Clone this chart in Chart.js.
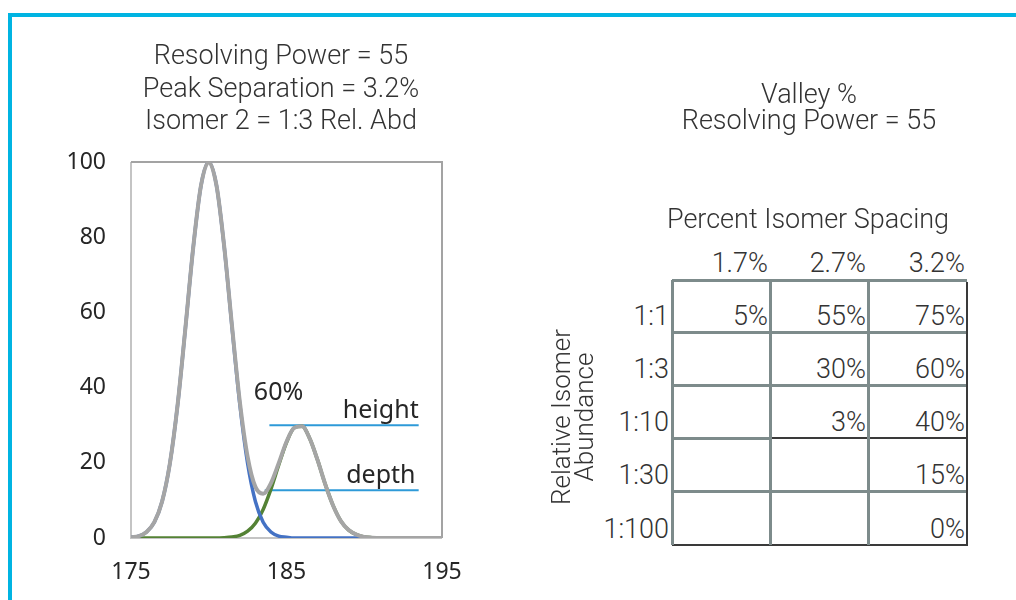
<!DOCTYPE html>
<html>
<head>
<meta charset="utf-8">
<script src="https://cdn.jsdelivr.net/npm/chart.js@4.4.1/dist/chart.umd.min.js"></script>
<style>
  html, body { margin: 0; padding: 0; background: #fff; }
  body { width: 1016px; height: 600px; position: relative; overflow: hidden; font-family: Roboto, sans-serif; font-weight: 300; color: #333; }
  #frameTop { position: absolute; left: 8px; top: 13px; width: 1008px; height: 4px; background: #00b4e2; }
  #frameLeft { position: absolute; left: 8px; top: 13px; width: 4px; height: 587px; background: #00b4e2; }
  #chartBox { position: absolute; left: 0; top: 0; width: 562px; height: 600px; }
  .t { position: absolute; white-space: nowrap; font-size: 27px; line-height: 27px; }
  .hl { position: absolute; }
</style>
</head>
<body>
<div id="frameTop"></div>
<div id="frameLeft"></div>
<div id="chartBox"><canvas id="c" width="562" height="600"></canvas></div>
<div id="table"></div>
<script>
// ---------- data ----------
const chartTitle = ['Resolving Power = 55', 'Peak Separation = 3.2%', 'Isomer 2 = 1:3 Rel. Abd'];
const massValues = [175,175.5,176,176.5,177,177.5,178,178.5,179,179.5,180,180.5,181,181.5,182,182.5,183,183.5,184,184.5,185,185.5,186,186.5,187,187.5,188,188.5,189,189.5,190,190.5,191,191.5,192,192.5,193,193.5,194,194.5,195];
const isomer1 = [0.2,0.5,1.6,4.2,9.7,19.8,35.5,55.9,77.2,93.7,100,93.7,77.2,55.9,35.5,19.8,9.7,4.2,1.6,0.5,0.2,0,0,0,0,0,0,0,0,0,0,0,0,0,0,0,0,0,0,0,0];
const isomer2 = [0,0,0,0,0,0,0,0,0,0,0,0,0.1,0.3,0.7,1.8,3.9,7.6,13.0,19.4,25.4,29.3,29.7,26.4,20.7,14.2,8.6,4.5,2.1,0.9,0.3,0.1,0,0,0,0,0,0,0,0,0];
const combined = [0.2,0.5,1.6,4.2,9.7,19.8,35.5,55.9,77.2,93.7,100,93.7,77.3,56.2,36.2,21.6,13.6,11.8,14.6,19.9,25.6,29.3,29.7,26.4,20.7,14.2,8.6,4.5,2.1,0.9,0.3,0.1,0,0,0,0,0,0,0,0,0];
const heightLineX = [183.9, 193.5];
const heightLevel = 30;
const depthLineX = [183.6, 193.5];
const depthLevel = 12.7;
const annotations = [
  { text: '60%', x: 182.9, y: 36.7, align: 'left' },
  { text: 'height', x: 193.5, y: 31.9, align: 'right' },
  { text: 'depth', x: 193.3, y: 14.6, align: 'right' }
];

const tableTitle = ['Valley %', 'Resolving Power = 55'];
const tableAxisTitle = 'Percent Isomer Spacing';
const rowAxisTitle = ['Relative Isomer', 'Abundance'];
const spacingLabels = ['1.7%', '2.7%', '3.2%'];
const abundanceLabels = ['1:1', '1:3', '1:10', '1:30', '1:100'];
const valleyTable = [
  ['5%', '55%', '75%'],
  ['', '30%', '60%'],
  ['', '3%', '40%'],
  ['', '', '15%'],
  ['', '', '0%']
];

// ---------- chart ----------
const pts = (ys) => massValues.map((x, i) => ({ x: x, y: ys[i] }));
const seg = (xs, y) => xs.map(x => ({ x: x, y: y }));

const tickFont = { family: '"Noto Sans", sans-serif', size: 23 };

const decorPlugin = {
  id: 'decor',
  beforeDatasetsDraw(chart) {
    const { ctx, chartArea: a } = chart;
    ctx.save();
    ctx.lineWidth = 2;
    ctx.strokeStyle = '#c4c4c4';
    ctx.beginPath();
    ctx.moveTo(a.left, a.top); ctx.lineTo(a.left, a.bottom); ctx.lineTo(a.right, a.bottom);
    ctx.stroke();
    ctx.strokeStyle = '#a3a3a3';
    ctx.beginPath();
    ctx.moveTo(a.left, a.top); ctx.lineTo(a.right, a.top); ctx.lineTo(a.right, a.bottom);
    ctx.stroke();
    ctx.restore();
  },
  afterDatasetsDraw(chart) {
    const { ctx, scales } = chart;
    ctx.save();
    ctx.font = '25px "Noto Sans", sans-serif';
    ctx.fillStyle = '#262626';
    ctx.textBaseline = 'alphabetic';
    annotations.forEach(a => {
      ctx.textAlign = a.align;
      ctx.fillText(a.text, scales.x.getPixelForValue(a.x), scales.y.getPixelForValue(a.y));
    });
    ctx.restore();
  }
};

new Chart(document.getElementById('c'), {
  type: 'line',
  data: {
    datasets: [
      { label: 'Sum', data: pts(combined), borderColor: '#a5a5a5', borderWidth: 4, order: 0 },
      { label: 'Isomer 1', data: pts(isomer1), borderColor: '#4472c4', borderWidth: 3.5, order: 1 },
      { label: 'Isomer 2', data: pts(isomer2), borderColor: '#548235', borderWidth: 3.5, order: 2 },
      { label: 'height', data: seg(heightLineX, heightLevel), borderColor: '#2e9ad8', borderWidth: 2, order: 3, tension: 0 },
      { label: 'depth', data: seg(depthLineX, depthLevel), borderColor: '#2e9ad8', borderWidth: 2, order: 3, tension: 0 }
    ]
  },
  options: {
    responsive: false,
    animation: false,
    events: [],
    layout: { padding: { left: 0, right: 0, top: 0, bottom: 0 } },
    elements: { point: { radius: 0 }, line: { cubicInterpolationMode: 'monotone', fill: false } },
    plugins: {
      legend: { display: false },
      tooltip: { enabled: false },
      title: {
        display: true,
        text: chartTitle,
        color: '#333',
        font: { family: 'Roboto, sans-serif', weight: 300, size: 27, lineHeight: 1.204 },
        padding: { top: 41, bottom: 23.5 }
      }
    },
    scales: {
      x: {
        type: 'linear', min: 175, max: 195,
        grid: { display: false, drawTicks: false },
        border: { display: false },
        ticks: { stepSize: 10, color: '#262626', font: tickFont, padding: 21, maxRotation: 0 },
        afterFit(s) { s.height = 62; }
      },
      y: {
        min: 0, max: 100,
        grid: { display: false, drawTicks: false },
        border: { display: false },
        ticks: { stepSize: 20, color: '#262626', font: tickFont, padding: 25 },
        afterFit(s) { s.width = 131; }
      },
      ySpacer: {
        position: 'right', min: 0, max: 100,
        grid: { display: false, drawTicks: false },
        border: { display: false },
        ticks: { display: false },
        afterFit(s) { s.width = 120; }
      }
    }
  },
  plugins: [decorPlugin]
});

// ---------- table ----------
const root = document.getElementById('table');
function addText(txt, x, baseline, align) {
  const d = document.createElement('div');
  d.className = 't';
  d.textContent = txt;
  d.style.top = (baseline - 22.7) + 'px';
  if (align === 'right') { d.style.right = (1016 - x) + 'px'; d.style.textAlign = 'right'; }
  else if (align === 'center') { d.style.left = (x - 300) + 'px'; d.style.width = '600px'; d.style.textAlign = 'center'; }
  else { d.style.left = x + 'px'; }
  root.appendChild(d);
}
function addLine(x, y, w, h, color) {
  const d = document.createElement('div');
  d.className = 'hl';
  d.style.left = x + 'px'; d.style.top = y + 'px';
  d.style.width = w + 'px'; d.style.height = h + 'px';
  d.style.background = color;
  root.appendChild(d);
}

addText(tableTitle[0], 809, 104, 'center');
addText(tableTitle[1], 809, 130, 'center');
addText(tableAxisTitle, 808, 229, 'center');

const colEdges = [672, 770, 868, 967];
const rowEdges = [280, 332, 385, 438, 491, 545];
const gridGray = '#7d8b8b';
const gridDark = '#3a3a3a';

spacingLabels.forEach((s, j) => addText(s, colEdges[j + 1] - 2, 273, 'right'));
abundanceLabels.forEach((r, i) => {
  addText(r, colEdges[0] - 3, rowEdges[i + 1] - 6, 'right');
  valleyTable[i].forEach((v, j) => { if (v) addText(v, colEdges[j + 1] - 2, rowEdges[i + 1] - 6, 'right'); });
});

// horizontal rules
for (let i = 0; i < rowEdges.length; i++) {
  const y = rowEdges[i];
  if (i === rowEdges.length - 1) addLine(colEdges[0], y - 1, colEdges[3] - colEdges[0] + 1, 2, gridDark);
  else if (i === 3) {
    addLine(colEdges[0], y - 1.5, colEdges[1] - colEdges[0], 3, gridGray);
    addLine(colEdges[1], y - 1, colEdges[3] - colEdges[1] + 1, 2, gridDark);
  }
  else addLine(colEdges[0], y - 1.5, colEdges[3] - colEdges[0], 3, gridGray);
}
// vertical rules
for (let j = 0; j < 3; j++) addLine(colEdges[j] - 1.5, rowEdges[0], 3, rowEdges[5] - rowEdges[0], gridGray);
addLine(colEdges[3] - 1, rowEdges[0] + 1.5, 2, rowEdges[5] - rowEdges[0] - 0.5, gridDark);

// rotated row axis title
const rot = document.createElement('div');
rot.style.position = 'absolute';
rot.style.left = (573 - 150) + 'px';
rot.style.top = (417 - 23) + 'px';
rot.style.width = '300px';
rot.style.height = '46px';
rot.style.textAlign = 'center';
rot.style.fontSize = '26px';
rot.style.lineHeight = '23px';
rot.style.transform = 'rotate(-90deg)';
rot.style.whiteSpace = 'nowrap';
rot.innerHTML = rowAxisTitle[0] + '<br>' + rowAxisTitle[1];
root.appendChild(rot);
</script>
</body>
</html>
